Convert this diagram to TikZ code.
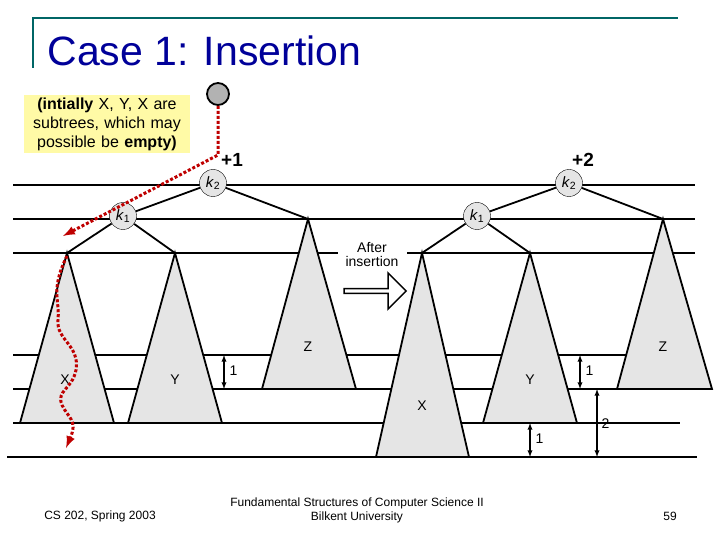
\documentclass[tikz,border=0pt]{standalone}
\usepackage{fontspec}
\setmainfont{Liberation Sans}
\usetikzlibrary{shapes.arrows,decorations.pathmorphing}
\begin{document}
\begin{tikzpicture}[x=1pt,y=-1pt,
  lvl/.style={line width=1.8pt},
  tri/.style={draw,line width=1.8pt,fill=black!10},
  knode/.style={circle,draw,fill=black!10,minimum size=27pt,inner sep=0pt,font=\fontsize{15}{15}\selectfont},
  edge/.style={line width=1.8pt},
  lab/.style={font=\fontsize{14}{14}\selectfont},
  dim/.style={<->,>=latex,line width=1.3pt},
  red path/.style={draw=red!75!black,line width=3pt,dotted,-latex}]
\useasboundingbox (0,0) rectangle (720,540);
% title frame
\draw[teal!80!black,line width=1.8pt] (33,68) -- (33,18) -- (678,18);
\node[anchor=base west,text=blue!60!black,font=\fontsize{41}{41}\selectfont] (title) at (44,66) {Case 1: Insertion};
% level lines
\foreach \y in {185,219,355,389} \draw[lvl] (13,\y) -- (695,\y);
\draw[lvl] (13,253) -- (338,253);
\draw[lvl] (407,253) -- (695,253);
\draw[lvl] (13,423) -- (680,423);
\draw[lvl] (7,457) -- (697,457);
% left tree
\draw[tri] (67,253) -- (20,423) -- (114,423) -- cycle;
\draw[tri] (175,253) -- (128,423) -- (222,423) -- cycle;
\draw[tri] (308,219) -- (262,389) -- (356,389) -- cycle;
\node[knode] (lk2) at (213,183) {\textit{k}\textsubscript{2}};
\node[knode] (lk1) at (123,216) {\textit{k}\textsubscript{1}};
\coordinate (lxa) at (67,253); \coordinate (lya) at (175,253); \coordinate (lza) at (308,219);
\draw[edge] (lk2) -- (lk1); \draw[edge] (lk2) -- (lza);
\draw[edge] (lk1) -- (lxa); \draw[edge] (lk1) -- (lya);
\node[lab] (lx) at (65,380) {X};
\node[lab] (ly) at (175,380) {Y};
\node[lab] (lz) at (308,347) {Z};
\coordinate (d1a) at (224,355); \coordinate (d1b) at (224,389);
\draw[dim] (d1a) -- (d1b);
\node[lab,anchor=west] (d1) at (226,371) {1};
% right tree
\draw[tri] (422,253) -- (376,457) -- (469,457) -- cycle;
\draw[tri] (530,253) -- (483,423) -- (577,423) -- cycle;
\draw[tri] (663,219) -- (617,389) -- (712,389) -- cycle;
\node[knode] (rk2) at (569,183) {\textit{k}\textsubscript{2}};
\node[knode] (rk1) at (477,216) {\textit{k}\textsubscript{1}};
\coordinate (rxa) at (422,253); \coordinate (rya) at (530,253); \coordinate (rza) at (663,219);
\draw[edge] (rk2) -- (rk1); \draw[edge] (rk2) -- (rza);
\draw[edge] (rk1) -- (rxa); \draw[edge] (rk1) -- (rya);
\node[lab] (rx) at (422,406) {X};
\node[lab] (ry) at (530,380) {Y};
\node[lab] (rz) at (663,347) {Z};
\coordinate (e1a) at (580,355); \coordinate (e1b) at (580,389);
\draw[dim] (e1a) -- (e1b);
\node[lab,anchor=west] (e1) at (582,371) {1};
\coordinate (e2a) at (530,423); \coordinate (e2b) at (530,457);
\draw[dim] (e2a) -- (e2b);
\node[lab,anchor=west] (e2) at (532,439) {1};
\coordinate (e3a) at (597,389); \coordinate (e3b) at (597,457);
\draw[dim] (e3a) -- (e3b);
\node[lab,anchor=west] (e3) at (598,424) {2};
% balance labels
\node[font=\fontsize{19}{19}\selectfont\bfseries] (p1) at (232,160) {+1};
\node[font=\fontsize{19}{19}\selectfont\bfseries] (p2) at (583,160) {+2};
% after insertion
\node[lab,align=center] (after) at (372,255) {After\\insertion};
\node[single arrow,draw,line width=1.5pt,minimum height=62pt,minimum width=36pt,single arrow head extend=5pt,inner sep=0pt] (arr) at (374,291) {};
% note
\node[fill=yellow!35,text width=160pt,align=center,inner sep=3pt,font=\fontsize{16}{19}\selectfont] (note) at (107,124) {\textbf{(intially} X, Y, X are subtrees, which may possible be \textbf{empty)}};
% inserted node and path
\node[circle,draw,line width=1.8pt,fill=black!30,minimum size=22pt] (new) at (218,94) {};
\coordinate (c1) at (218,155); \coordinate (c2) at (63,236);
\draw[red path] (new) -- (c1) -- (c2);
\coordinate (w1) at (67,256); \coordinate (w2) at (66,448);
\draw[red path] (w1) .. controls (50,290) and (60,300) .. (58,320)
  .. controls (56,340) and (80,345) .. (76,370)
  .. controls (72,390) and (56,390) .. (62,405)
  .. controls (68,418) and (78,420) .. (w2);
% footer
\node[font=\fontsize{12}{12}\selectfont] (f1) at (100,516) {CS 202, Spring 2003};
\node[font=\fontsize{12}{14}\selectfont,align=center] (f2) at (357,510) {Fundamental Structures of Computer Science II\\Bilkent University};
\node[font=\fontsize{12}{12}\selectfont] (f3) at (670,516) {59};
\end{tikzpicture}
\end{document}
